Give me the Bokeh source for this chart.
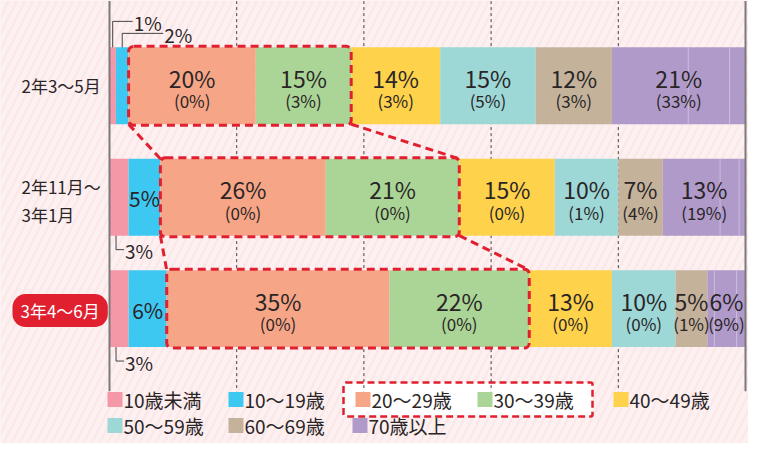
from bokeh.plotting import figure
from bokeh.models import ColumnDataSource, Range1d, BoxAnnotation
from bokeh.core.properties import value
from bokeh.embed import file_html
from bokeh.resources import INLINE

# ---------------- data ----------------
periods = ["2年3～5月", "2年11月～\n3年1月", "3年4～6月"]
highlight = [False, False, True]
age_groups = ["10歳未満", "10～19歳", "20～29歳", "30～39歳",
              "40～49歳", "50～59歳", "60～69歳", "70歳以上"]
colors = ["#f497a6", "#3dc8f2", "#f7a587", "#abd596",
          "#fed24b", "#9dd7d6", "#c4b29b", "#b09ac9"]

share_r2_mar_may = [1, 2, 20, 15, 14, 15, 12, 21]
share_r2_nov_r3_jan = [3, 5, 26, 21, 15, 10, 7, 13]
share_r3_apr_jun = [3, 6, 35, 22, 13, 10, 5, 6]

paren_r2_mar_may = [None, None, 0, 3, 3, 5, 3, 33]
paren_r2_nov_r3_jan = [None, None, 0, 0, 0, 1, 4, 19]
paren_r3_apr_jun = [None, None, 0, 0, 0, 0, 1, 9]

# breakdown inside the 70+ segment (thin separators)
over70_r2_mar_may = [12, 6.5, 2.5]
over70_r2_nov_r3_jan = [9, 3, 1]
over70_r3_apr_jun = [1.1, 3.5, 1.4]

shares = [share_r2_mar_may, share_r2_nov_r3_jan, share_r3_apr_jun]
parens = [paren_r2_mar_may, paren_r2_nov_r3_jan, paren_r3_apr_jun]
over70 = [over70_r2_mar_may, over70_r2_nov_r3_jan, over70_r3_apr_jun]
grid_ticks = [20, 40, 60, 80]
focus = (2, 3)  # highlighted age groups (indices)

# ---------------- layout constants ----------------
W, H = 748, 443
X0 = 109          # px of 0 %
PX_X = 6.36       # px per percent
Y0 = 85.3         # px of first row centre
PX_Y = 111.4      # px per row
BAR_H = 0.69
BG = "#fbe7e8"
RED = "#e0202f"
INK = "#2a2526"
FONT = value("Noto Sans CJK JP")

def dy(px):
    return px / PX_Y

def dx(px):
    return px / PX_X

p = figure(width=W, height=H,
           x_range=Range1d(dx(-X0), dx(W - X0)),
           y_range=Range1d(dy(H - Y0), dy(-Y0)),
           output_backend="svg", toolbar_location=None,
           x_axis_location=None, y_axis_location=None,
           min_border=0, outline_line_color=None,
           background_fill_color=BG, border_fill_color=BG)
p.xgrid.visible = False
p.ygrid.visible = False

# striped background
p.add_layout(BoxAnnotation(fill_alpha=0, line_alpha=0, hatch_pattern="/",
                           hatch_color="white", hatch_alpha=0.38,
                           hatch_scale=16, hatch_weight=5, level="underlay"))

axis_top = -0.5 - dy(29)
axis_bot = len(periods) - 1 + 0.5 + dy(27)

# dashed grid
p.segment(x0=grid_ticks, x1=grid_ticks, y0=[axis_top] * 4, y1=[axis_bot] * 4,
          line_color="#444444", line_width=1, line_dash="3 3")

# bars
bar = dict(y=[], left=[], right=[], color=[])
for i, row in enumerate(shares):
    acc = 0
    for j, v in enumerate(row):
        bar["y"].append(i)
        bar["left"].append(acc)
        bar["right"].append(acc + v)
        bar["color"].append(colors[j])
        acc += v
p.hbar(y="y", left="left", right="right", height=BAR_H, color="color",
       line_color=None, source=ColumnDataSource(bar))

# separators inside 70+
sx, sy0, sy1 = [], [], []
for i, row in enumerate(shares):
    acc = sum(row[:-1])
    for v in over70[i][:-1]:
        acc += v
        sx.append(acc)
        sy0.append(i - BAR_H / 2)
        sy1.append(i + BAR_H / 2)
p.segment(x0=sx, x1=sx, y0=sy0, y1=sy1, line_color="#cdbde0", line_width=1)

# axis lines
p.segment(x0=[0, 100], x1=[0, 100], y0=[axis_top] * 2, y1=[axis_bot] * 2,
          line_color="#7a7a7a", line_width=2)

# red dashed focus boxes and connectors
box_l, box_r = [], []
for i, row in enumerate(shares):
    l = sum(row[:focus[0]])
    r = sum(row[:focus[1] + 1])
    box_l.append(l)
    box_r.append(r)
    p.add_layout(BoxAnnotation(left=l, right=r, top=i - BAR_H / 2 - dy(1),
                               bottom=i + BAR_H / 2 + dy(1),
                               fill_alpha=0, line_color=RED, line_alpha=1,
                               line_width=3, line_dash="8 5", border_radius=5))
for i in range(len(shares) - 1):
    for xs in (box_l, box_r):
        p.line(x=[xs[i], xs[i + 1]], y=[i + BAR_H / 2, i + 1 - BAR_H / 2],
               line_color=RED, line_width=3, line_dash="8 5")

# labels inside bars
big = dict(x=[], y=[], t=[])
mid = dict(x=[], y=[], t=[])
small = dict(x=[], y=[], t=[])
for i, row in enumerate(shares):
    acc = 0
    for j, v in enumerate(row):
        cx = acc + v / 2
        if parens[i][j] is not None:
            big["x"].append(cx); big["y"].append(i - dy(8)); big["t"].append(f"{v}%")
            small["x"].append(cx); small["y"].append(i + dy(15)); small["t"].append(f"({parens[i][j]}%)")
        elif v >= 5:
            mid["x"].append(cx); mid["y"].append(i + dy(1)); mid["t"].append(f"{v}%")
        acc += v
p.text(x="x", y="y", text="t", source=ColumnDataSource(big), text_font=FONT,
       text_font_size="23px", text_color=INK, text_align="center",
       text_baseline="middle")
p.text(x="x", y="y", text="t", source=ColumnDataSource(mid), text_font=FONT,
       text_font_size="21px", text_color=INK, text_align="center",
       text_baseline="middle")
p.text(x="x", y="y", text="t", source=ColumnDataSource(small), text_font=FONT,
       text_font_size="17px", text_color=INK, text_align="center",
       text_baseline="middle")

# labels outside bars with leader lines
lead_x, lead_y, out = [], [], dict(x=[], y=[], t=[])
above_rise = [26, 14]
above_run = [20, 41]
for i, row in enumerate(shares):
    acc = 0
    for j in (0, 1):
        v = row[j]
        cx = acc + v / 2
        acc += v
        if v >= 5:
            continue
        if i == 0:
            ty = i - BAR_H / 2 - dy(above_rise[j])
            tx = cx + dx(above_run[j])
            lead_x.append([cx, cx, tx]); lead_y.append([i - BAR_H / 2, ty, ty])
        else:
            ty = i + BAR_H / 2 + dy(14)
            cx2 = cx - dx(3)
            tx = cx2 + dx(8)
            lead_x.append([cx2, cx2, tx]); lead_y.append([i + BAR_H / 2, ty, ty])
        out["x"].append(tx + dx(1)); out["y"].append(ty + dy(1)); out["t"].append(f"{v}%")
p.multi_line(xs=lead_x, ys=lead_y, line_color="#444444", line_width=1)
p.text(x="x", y="y", text="t", source=ColumnDataSource(out), text_font=FONT,
       text_font_size="19px", text_color=INK, text_align="left",
       text_baseline="middle")

# period labels
for i, (lab, hl) in enumerate(zip(periods, highlight)):
    if hl:
        p.text(x=[dx(12 - X0)], y=[i + dy(2)], text=[lab], text_font=FONT,
               text_font_size="17px", text_color="white", text_align="left",
               text_baseline="middle", background_fill_color=RED,
               padding=[8, 4], border_radius=13)
    else:
        p.text(x=[dx(21 - X0)], y=[i + (dy(3) if "\n" in lab else 0)], text=[lab],
               text_font=FONT, text_font_size="17px", text_color=INK,
               text_align="left", text_baseline="middle", text_line_height=1.12)

# legend (manual)
leg_px = [107, 228, 355, 477, 613, 107, 228, 352]
leg_row_px = [399, 425]
leg_rows = [0, 0, 0, 0, 0, 1, 1, 1]
lx = [dx(px - X0) for px in leg_px]
ly = [dy(leg_row_px[r] - Y0) for r in leg_rows]
p.add_layout(BoxAnnotation(left=dx(343 - X0), right=dx(592 - X0),
                           top=dy(382 - Y0), bottom=dy(416 - Y0),
                           fill_color="white", fill_alpha=1, line_color=RED,
                           line_alpha=1, line_width=2.5, line_dash="7 4",
                           border_radius=2, level="underlay"))
p.scatter(x=[v + dx(7.5) for v in lx], y=ly, marker="square", size=15,
          color=colors, line_color=None)
p.text(x=[v + dx(16) for v in lx], y=ly, text=age_groups, text_font=FONT,
       text_font_size="19px", text_color=INK, text_align="left",
       text_baseline="middle")

open("out.html", "w").write(file_html(p, INLINE))
